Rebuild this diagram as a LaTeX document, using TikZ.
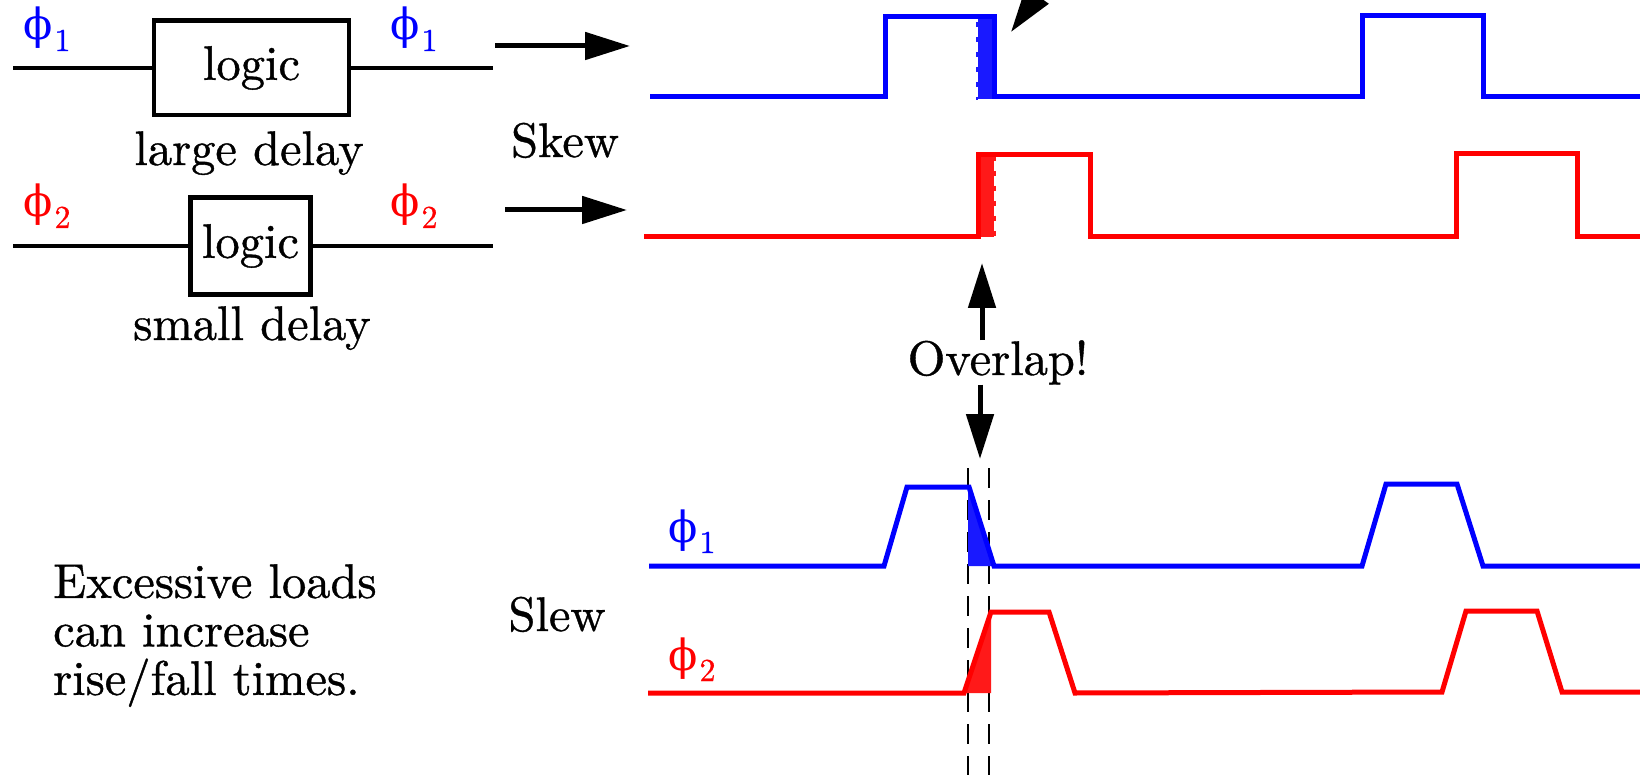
\documentclass[tikz,border=0pt]{standalone}
\usepackage{fontspec}
\setmainfont{lmroman10-regular.otf}[FakeBold=0.8]
\newfontfamily\phifont{DejaVu Serif}
\usetikzlibrary{arrows.meta}
% clock phase label: upright phi with a lowered index
\newcommand\phisub[1]{{\phifont\fontsize{43}{43}\selectfont ϕ}\kern2pt\raisebox{-11pt}{\fontsize{32}{32}\selectfont\bfseries #1}}
\begin{document}
\begin{tikzpicture}[x=1pt,y=-1pt,
  lbl/.style={inner sep=0pt, font=\fontsize{48.5}{48.5}\selectfont\bfseries},
  logicbox/.style={draw, line width=4.5pt, inner sep=0pt, font=\fontsize{48.5}{48.5}\selectfont\bfseries},
  wire/.style={line width=4.5pt},
  arr/.style={line width=5pt, -{Triangle[length=45pt,width=27pt]}},
  sigblue/.style={blue, line width=5pt, line join=miter},
  sigred/.style={red, line width=5pt, line join=miter},
  guide/.style={line width=2.5pt, dash pattern=on 20pt off 12pt},
  edgemark/.style={line width=2pt, dash pattern=on 5pt off 10pt},
  philbl/.style={inner sep=0pt, anchor=base west}
]
\useasboundingbox (0,0) rectangle (1640,775);
\clip (0,0) rectangle (1640,775);

% ---------- logic paths ----------
\node[logicbox, minimum width=195pt, minimum height=94.5pt] (lg1) at (251.5,68) {logic};
\node[logicbox, minimum width=120pt, minimum height=97pt] (lg2) at (250.5,246) {logic};
\coordinate (w1a) at (13,68);  \coordinate (w1b) at (493,68);
\coordinate (w2a) at (13,246); \coordinate (w2b) at (493,246);
\draw[wire] (w1a) -- (lg1.west);
\draw[wire] (lg1.east) -- (w1b);
\draw[wire] (w2a) -- (lg2.west);
\draw[wire] (lg2.east) -- (w2b);
\node[lbl, anchor=base] (ld) at (249,165) {large delay};
\node[lbl, anchor=base] (sd) at (252,340) {small delay};

\node[philbl, blue] (p1a) at (23,40) {\phisub{1}};
\node[philbl, blue] (p1b) at (390,40) {\phisub{1}};
\node[philbl, red]  (p2a) at (23,217) {\phisub{2}};
\node[philbl, red]  (p2b) at (390,217) {\phisub{2}};

% ---------- skew ----------
\coordinate (a1s) at (495,46);  \coordinate (a1e) at (630,46);
\coordinate (a2s) at (505,210); \coordinate (a2e) at (627,210);
\draw[arr] (a1s) -- (a1e);
\draw[arr] (a2s) -- (a2e);
\node[lbl, anchor=base] (skew) at (565,157) {Skew};

% overlap regions of the square waves
\fill[blue!90] (978,17) rectangle (994,99);
\draw[blue!90, edgemark] (977,22) -- (977,100);
\fill[red!90] (978,153) rectangle (994,237);
\draw[red!90, edgemark] (995,156) -- (995,240);

\draw[sigblue] (650,97) -- (885,97) -- (885,17) -- (994,17) -- (994,97)
  -- (1362,97) -- (1362,16) -- (1483,16) -- (1483,97) -- (1640,97);
\draw[sigred] (644,237) -- (978,237) -- (978,155) -- (1090,155) -- (1090,237)
  -- (1456,237) -- (1456,154) -- (1577,154) -- (1577,237) -- (1640,237);

\coordinate (pf) at (1070,-50); \coordinate (pt) at (1011,32);
\draw[arr] (pf) -- (pt);

% ---------- overlap marker ----------
\node[lbl, anchor=base] (ov) at (998,375) {Overlap!};
\coordinate (uptip) at (982,263);
\coordinate (dntip) at (980,459);
\draw[arr] (ov.north -| uptip) -- (uptip);
\draw[arr] (ov.south -| dntip) -- (dntip);

% ---------- slew ----------
\coordinate (g1t) at (968,468); \coordinate (g1b) at (968,775);
\coordinate (g2t) at (989,468); \coordinate (g2b) at (989,775);
\draw[guide] (g1t) -- (g1b);
\draw[guide] (g2t) -- (g2b);

\fill[blue!90] (968,487) -- (968,566) -- (994,566) -- cycle;
\fill[red!90] (964,693) -- (991,612) -- (991,693) -- cycle;

\draw[sigblue] (649,566) -- (884,566) -- (907,487) -- (969,487) -- (994,566)
  -- (1362,566) -- (1386,484) -- (1457,484) -- (1483,566) -- (1640,566);
\draw[sigred] (648,693) -- (964,693) -- (991,612) -- (1049,612) -- (1075,693)
  -- (1442,692) -- (1466,611) -- (1537,611) -- (1562,692) -- (1640,692);

\node[philbl, blue] (p1c) at (668,542) {\phisub{1}};
\node[philbl, red]  (p2c) at (668,670) {\phisub{2}};
\node[lbl, anchor=base] (slew) at (557,631) {Slew};

\node[lbl, anchor=north west, align=left] (note) at (53,564)
  {Excessive loads\\can increase\\rise/fall times.};
\end{tikzpicture}
\end{document}
